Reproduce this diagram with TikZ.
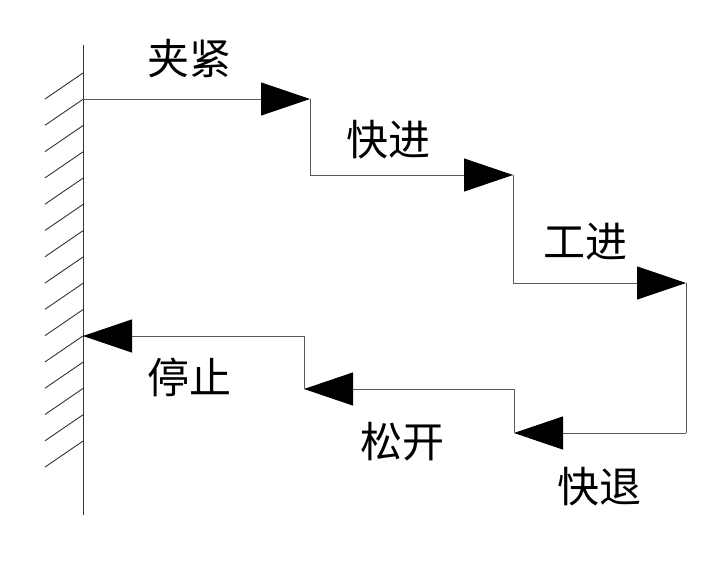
\documentclass[tikz,border=0pt]{standalone}
\usepackage{fontspec}
\newfontfamily\cjk{Noto Sans CJK SC}
\usetikzlibrary{arrows.meta}
\begin{document}
\begin{tikzpicture}[x=1pt,y=-1pt,
	every node/.style={font=\cjk\fontsize{42}{42}\selectfont,inner sep=0pt},
	path line/.style={draw=black!65,line width=0.9pt},
	wall line/.style={draw=black!80,line width=0.9pt},
	tip/.style={-{Triangle[length=49pt,width=33pt,color=black]}}]
	\useasboundingbox (0,0) rectangle (725,572);
	
	% wall with hatching
	\draw[wall line] (83,45) -- (83,515);
	\foreach \i in {0,...,14}
		\draw[wall line] (83,73+26.29*\i) -- ++(-38,26);
	
	% corners of the cycle
	\coordinate (a0) at (83,99);
	\coordinate (a1) at (310,99);
	\coordinate (a2) at (310,175);
	\coordinate (a3) at (513,175);
	\coordinate (a4) at (513,283);
	\coordinate (a5) at (686,283);
	\coordinate (a6) at (686,433);
	\coordinate (a7) at (514,433);
	\coordinate (a8) at (514,389);
	\coordinate (a9) at (304,389);
	\coordinate (a10) at (304,336);
	\coordinate (a11) at (83,336);
	
	\draw[path line,tip] (a0) -- (a1);
	\draw[path line] (a1) -- (a2);
	\draw[path line,tip] (a2) -- (a3);
	\draw[path line] (a3) -- (a4);
	\draw[path line,tip] (a4) -- (a5);
	\draw[path line] (a5) -- (a6);
	\draw[path line,tip] (a6) -- (a7);
	\draw[path line] (a7) -- (a8);
	\draw[path line,tip] (a8) -- (a9);
	\draw[path line] (a9) -- (a10);
	\draw[path line,tip] (a10) -- (a11);
	
	% labels
	\node (clamp) at (189,59) {夹紧};
	\node (fwd) at (388,140) {快进};
	\node (work) at (585,242) {工进};
	\node (back) at (599,487) {快退};
	\node (loose) at (402,442) {松开};
	\node (stop) at (189,377) {停止};
\end{tikzpicture}
\end{document}
